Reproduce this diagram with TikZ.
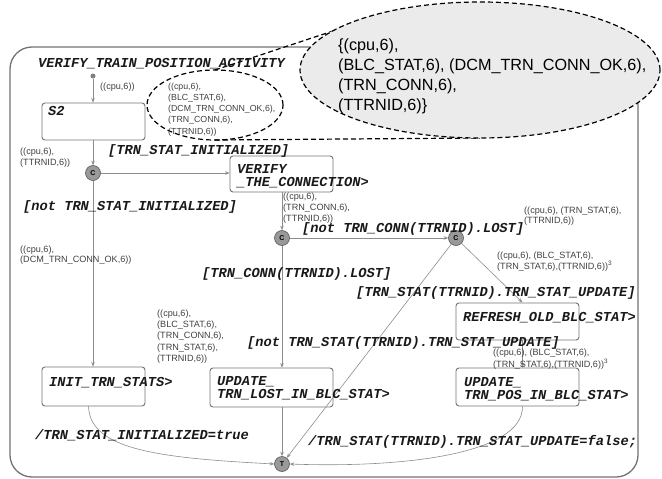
\documentclass[tikz,border=0pt]{standalone}
\usepackage{fontspec}
\setmainfont{Liberation Sans}
\newfontfamily\codefont{Liberation Mono}
\usetikzlibrary{positioning,arrows.meta,shapes.geometric}

\begin{document}
\begin{tikzpicture}[x=1pt, y=-1pt,
    frame/.style={draw=black!55, line width=1.3pt, rounded corners=22pt},
    state/.style={rectangle, draw=black!55, line width=0.9pt,
        rounded corners=3pt, inner sep=0pt},
    stname/.style={inner sep=0pt, anchor=base west, align=left, text=black!90,
        font=\codefont\bfseries\itshape\fontsize{13.7}{13}\selectfont},
    vars/.style={inner sep=0pt, anchor=base west, align=left, text=black!75,
        font=\fontsize{9.1}{11}\selectfont},
    conn/.style={circle, draw=black!65, fill=black!40, line width=0.6pt,
        minimum size=15pt, inner sep=0pt, font=\bfseries\fontsize{7}{7}\selectfont},
    arrow/.style={-{Stealth[length=4.5pt, width=3.5pt]}, draw=black!45, line width=0.6pt},
    callout/.style={draw=black, line width=1.2pt, dash pattern=on 5pt off 3pt}
]
\useasboundingbox (0,0) rectangle (662,479);

% Activity frame
\draw[frame] (10,47) rectangle (638,477);

% States
\node[state, minimum width=103pt, minimum height=37pt] (s2) at (93.5,121.5) {};
\node[state, minimum width=103pt, minimum height=36pt] (verify) at (281.5,174) {};
\node[state, minimum width=103pt, minimum height=39pt] (init) at (93.5,386.5) {};
\node[state, minimum width=123pt, minimum height=39pt] (lost) at (271.5,387.5) {};
\node[state, minimum width=123pt, minimum height=37pt] (refresh) at (517.5,321.5) {};
\node[state, minimum width=123pt, minimum height=38pt] (pos) at (517.5,387) {};

% Connectors
\node[circle, fill=black!50, minimum size=5pt, inner sep=0pt] (start) at (93,76) {};
\node[conn] (c1) at (93,173) {C};
\node[conn] (c2) at (282,238) {C};
\node[conn] (c3) at (456,238) {C};
\node[conn] (t) at (282,464) {T};

% Transitions
\draw[arrow] (start) -- (start |- s2.north);
\draw[arrow] (s2.south -| c1) -- (c1);
\draw[arrow] (c1) -- (c1 -| verify.west);
\draw[arrow] (c1) -- (c1 |- init.north);
\draw[arrow] (verify.south -| c2) -- (c2);
\draw[arrow] (c2) -- (c3);
\draw[arrow] (c2) -- (c2 |- lost.north);
\draw[arrow] (c3) -- ([xshift=5pt]refresh.north);
\draw[arrow] (c3) -- (t);
\draw[arrow] ([xshift=5pt]refresh.south) -- ([xshift=5pt]pos.north);
\draw[arrow] (lost.south -| t) -- (t);
\draw[arrow] ([xshift=-5pt]init.south) .. controls (90,450) and (160,458) .. (t.west);
\draw[arrow] ([xshift=5pt]pos.south) .. controls (523,455) and (400,468) .. (t.east);

% Variable callout
\draw[callout] (215,70) -- (333,31);
\draw[callout] (215,140) -- (480,138);
\node[ellipse, callout, fill=black!8, minimum width=360pt, minimum height=136pt,
    inner sep=0pt] (bigvar) at (480,70) {};
\node[ellipse, callout, minimum width=136pt, minimum height=70pt,
    inner sep=0pt] (smallvar) at (215,105) {};
\node[inner sep=0pt, anchor=base west, align=left,
    font=\fontsize{16.2}{20}\selectfont] (bigtext) at (338,110)
    {\{(cpu,6),\\(BLC\_STAT,6), (DCM\_TRN\_CONN\_OK,6),\\(TRN\_CONN,6),\\(TTRNID,6)\}};
\node[vars, font=\fontsize{8.8}{11.25}\selectfont] (smalltext) at (168,134)
    {((cpu,6),\\(BLC\_STAT,6),\\(DCM\_TRN\_CONN\_OK,6),\\(TRN\_CONN,6),\\(TTRNID,6))};

% State names
\node[stname] (title) at (38,67) {VERIFY\_TRAIN\_POSITION\_ACTIVITY};
\node[stname] (s2name) at (48,115) {S2};
\node[stname] (verifyname) at (237,186) {VERIFY\\\_THE\_CONNECTION>};
\node[stname] (initname) at (49,386) {INIT\_TRN\_STATS>};
\node[stname] (lostname) at (217,398) {UPDATE\_\\TRN\_LOST\_IN\_BLC\_STAT>};
\node[stname] (refreshname) at (463,321) {REFRESH\_OLD\_BLC\_STAT>};
\node[stname] (posname) at (464,399) {UPDATE\_\\TRN\_POS\_IN\_BLC\_STAT>};

% Guards and actions
\node[stname] (g1) at (108,154) {[TRN\_STAT\_INITIALIZED]};
\node[stname] (g2) at (23,210) {[not TRN\_STAT\_INITIALIZED]};
\node[stname] (g3) at (302,232) {[not TRN\_CONN(TTRNID).LOST]};
\node[stname] (g4) at (202,277) {[TRN\_CONN(TTRNID).LOST]};
\node[stname] (g5) at (356,296) {[TRN\_STAT(TTRNID).TRN\_STAT\_UPDATE]};
\node[stname] (g6) at (247,346) {[not TRN\_STAT(TTRNID).TRN\_STAT\_UPDATE]};
\node[stname] (a1) at (35,439) {/TRN\_STAT\_INITIALIZED=true};
\node[stname] (a2) at (308,445) {/TRN\_STAT(TTRNID).TRN\_STAT\_UPDATE=false;};

% Variable sets on transitions
\node[vars] (v1) at (100,89.5) {((cpu,6))};
\node[vars, font=\fontsize{9.1}{10.5}\selectfont] (v2) at (20,165) {((cpu,6),\\(TTRNID,6))};
\node[vars] (v3) at (283,221.5) {((cpu,6),\\(TRN\_CONN,6),\\(TTRNID,6))};
\node[vars, font=\fontsize{9.1}{9.5}\selectfont] (v4) at (524,223) {((cpu,6), (TRN\_STAT,6),\\(TTRNID,6))};
\node[vars, font=\fontsize{9.1}{10.5}\selectfont] (v5) at (20,262.5) {((cpu,6),\\(DCM\_TRN\_CONN\_OK,6))};
\node[vars, font=\fontsize{9.1}{11.2}\selectfont] (v6) at (157,361.3)
    {((cpu,6),\\(BLC\_STAT,6),\\(TRN\_CONN,6),\\(TRN\_STAT,6),\\(TTRNID,6))};
\node[vars] (v7) at (497,269.5) {((cpu,6), (BLC\_STAT,6),\\(TRN\_STAT,6),(TTRNID,6))\textsuperscript{3}};
\node[vars, font=\fontsize{9.1}{9.5}\selectfont] (v8) at (493,367) {((cpu,6), (BLC\_STAT,6),\\(TRN\_STAT,6),(TTRNID,6))\textsuperscript{3}};

\end{tikzpicture}
\end{document}
